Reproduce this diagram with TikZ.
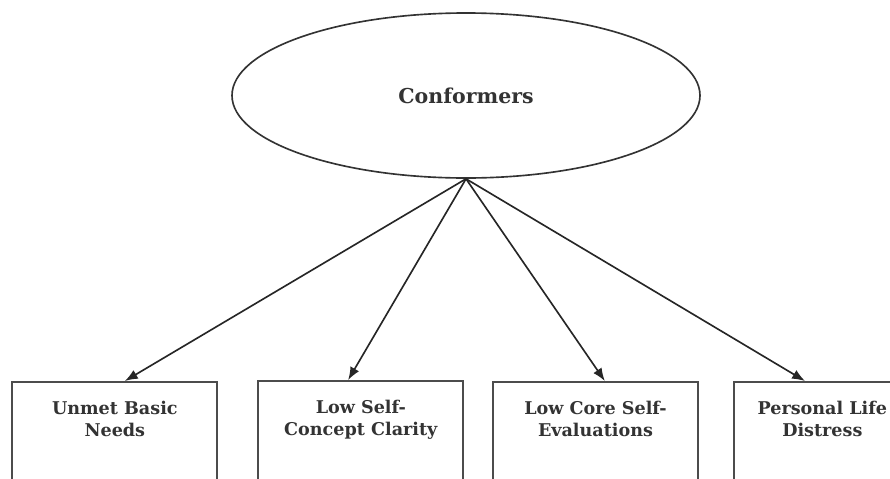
\documentclass[tikz,border=0pt]{standalone}
\usepackage{fontspec}
\setmainfont{DejaVu Serif}
\usetikzlibrary{shapes.geometric,arrows.meta,calc}
\tikzset{
  latent/.style={ellipse,draw=black!80,line width=1.4pt,minimum width=14.04cm,minimum height=4.95cm,inner sep=0pt,text=black!80,font=\bfseries\fontsize{17.5}{21}\selectfont},
  indicator/.style={rectangle,draw=black!70,line width=1.7pt,minimum width=6.15cm,anchor=north,align=center,inner ysep=0.58cm,text depth=2cm,text=black!80,font=\bfseries\fontsize{15}{18.8}\selectfont},
  load/.style={-{Latex[length=11pt,width=8.5pt]},line width=1.4pt,draw=black!85}
}
\begin{document}
\begin{tikzpicture}
\useasboundingbox (0,0) rectangle (26.7,-14.34);
% factor
\node[latent](conf)at(13.98,-2.865){Conformers};
% indicators
\node[indicator](needs)at(3.445,-11.43){Unmet Basic\\Needs};
\node[indicator](clarity)at(10.825,-11.40){Low Self-\\Concept Clarity};
\node[indicator](cse)at(17.865,-11.43){Low Core Self-\\Evaluations};
\node[indicator,minimum width=5.3cm](distress)at(24.67,-11.43){Personal Life\\Distress};
% loadings
\draw[load](conf.south)--($(needs.north)+(0.3,0)$);
\draw[load](conf.south)--($(clarity.north)+(-0.38,0)$);
\draw[load](conf.south)--($(cse.north)+(0.28,0)$);
\draw[load](conf.south)--($(distress.north)+(-0.52,0)$);
\end{tikzpicture}
\end{document}
